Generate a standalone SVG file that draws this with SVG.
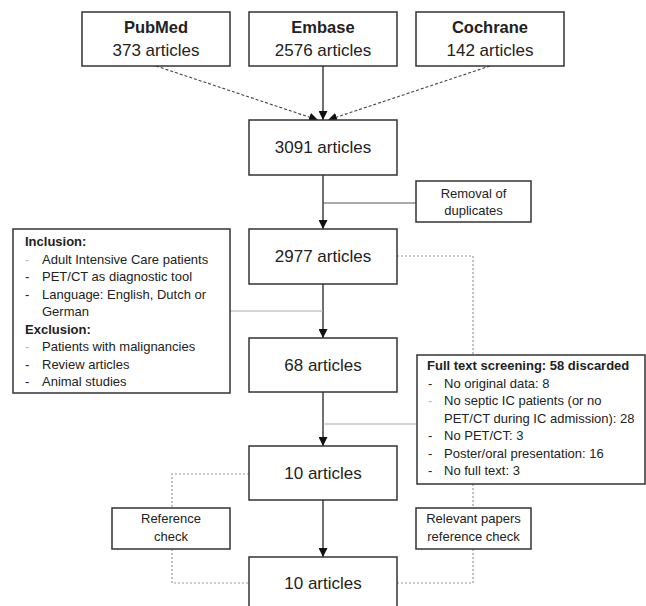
<svg xmlns="http://www.w3.org/2000/svg" width="646" height="606" viewBox="0 0 646 606">
<style>
.box{fill:#fff;stroke:#333;stroke-width:1.5}
.main{font-family:"Liberation Sans",Arial,sans-serif;font-size:17px;fill:#222;text-anchor:middle}
.mainb{font-family:"Liberation Sans",Arial,sans-serif;font-size:16.5px;font-weight:bold;fill:#222;text-anchor:middle}
.side{font-family:"Liberation Sans",Arial,sans-serif;font-size:13px;fill:#222;text-anchor:middle}
.list{font-family:"Liberation Sans",Arial,sans-serif;font-size:13px;fill:#222}
.listb{font-family:"Liberation Sans",Arial,sans-serif;font-size:13px;fill:#222;font-weight:bold}
.lt{fill:#bbb}
.solid{fill:none;stroke:#222;stroke-width:1.3}
.dash{fill:none;stroke:#444;stroke-width:1.1;stroke-dasharray:3 2}
.dot{fill:none;stroke:#999;stroke-width:1.2;stroke-dasharray:2 2}
.grey{fill:none;stroke:#aaa;stroke-width:1.2}
.mid{fill:none;stroke:#555;stroke-width:1.2}
</style>
<defs>
<marker id="ah" viewBox="0 0 10 10" refX="10" refY="5" markerWidth="9" markerHeight="9" markerUnits="userSpaceOnUse" orient="auto">
<path d="M0,0 L10,5 L0,10 z" fill="#111"/>
</marker>
</defs>
<g id="connectors">
<line class="dash" x1="156" y1="66" x2="318" y2="120" marker-end="url(#ah)"/>
<line class="solid" x1="323" y1="66" x2="323" y2="120" marker-end="url(#ah)"/>
<line class="dash" x1="490" y1="66" x2="328" y2="120" marker-end="url(#ah)"/>
<line class="solid" x1="323" y1="175" x2="323" y2="229" marker-end="url(#ah)"/>
<line class="mid" x1="323" y1="203" x2="416" y2="203"/>
<line class="solid" x1="323" y1="284" x2="323" y2="338" marker-end="url(#ah)"/>
<line class="grey" x1="230" y1="311" x2="323" y2="311"/>
<polyline class="dot" points="397,256 473,256 473,355"/>
<line class="solid" x1="323" y1="392" x2="323" y2="446" marker-end="url(#ah)"/>
<line class="grey" x1="323" y1="424" x2="417" y2="424"/>
<line class="solid" x1="323" y1="500" x2="323" y2="557" marker-end="url(#ah)"/>
<polyline class="dot" points="249,474 172,474 172,508"/>
<polyline class="dot" points="172,549 172,583 249,583"/>
<polyline class="dot" points="473,484 473,508"/>
<polyline class="dot" points="473,549 473,583 397,583"/>
</g>
<g id="pubmed">
<rect class="box" x="82" y="12" width="148" height="54"/>
<text class="mainb" x="156" y="33">PubMed</text>
<text class="main" x="156" y="56">373 articles</text>
</g>
<g id="embase">
<rect class="box" x="249" y="12" width="148" height="54"/>
<text class="mainb" x="323" y="33">Embase</text>
<text class="main" x="323" y="56">2576 articles</text>
</g>
<g id="cochrane">
<rect class="box" x="416" y="12" width="148" height="54"/>
<text class="mainb" x="490" y="33">Cochrane</text>
<text class="main" x="490" y="56">142 articles</text>
</g>
<g id="n3091">
<rect class="box" x="249" y="120" width="148" height="55"/>
<text class="main" x="323" y="153">3091 articles</text>
</g>
<g id="removal">
<rect class="box" x="416" y="181" width="115" height="41"/>
<text class="side" x="473.5" y="198">Removal of</text>
<text class="side" x="473.5" y="215">duplicates</text>
</g>
<g id="n2977">
<rect class="box" x="249" y="229" width="148" height="55"/>
<text class="main" x="323" y="262">2977 articles</text>
</g>
<g id="criteria">
<rect class="box" x="13" y="229" width="217" height="164"/>
<text class="listb" x="25" y="246">Inclusion:</text>
<text class="list lt" x="25" y="263.5">-</text><text class="list" x="42" y="263.5">Adult Intensive Care patients</text>
<text class="list" x="25" y="281">-</text><text class="list" x="42" y="281">PET/CT as diagnostic tool</text>
<text class="list" x="25" y="298.5">-</text><text class="list" x="42" y="298.5">Language: English, Dutch or</text>
<text class="list" x="42" y="316">German</text>
<text class="listb" x="25" y="333.5">Exclusion:</text>
<text class="list lt" x="25" y="351">-</text><text class="list" x="42" y="351">Patients with malignancies</text>
<text class="list" x="25" y="368.5">-</text><text class="list" x="42" y="368.5">Review articles</text>
<text class="list" x="25" y="386">-</text><text class="list" x="42" y="386">Animal studies</text>
</g>
<g id="n68">
<rect class="box" x="249" y="338" width="148" height="54"/>
<text class="main" x="323" y="371">68 articles</text>
</g>
<g id="fulltext">
<rect class="box" x="417" y="355" width="228" height="129"/>
<text class="listb" x="427" y="370">Full text screening: 58 discarded</text>
<text class="list" x="428" y="387.5">-</text><text class="list" x="444" y="387.5">No original data: 8</text>
<text class="list lt" x="428" y="405">-</text><text class="list" x="444" y="405">No septic IC patients (or no</text>
<text class="list" x="444" y="422.5">PET/CT during IC admission): 28</text>
<text class="list" x="428" y="440">-</text><text class="list" x="444" y="440">No PET/CT: 3</text>
<text class="list" x="428" y="457.5">-</text><text class="list" x="444" y="457.5">Poster/oral presentation: 16</text>
<text class="list" x="428" y="475">-</text><text class="list" x="444" y="475">No full text: 3</text>
</g>
<g id="n10a">
<rect class="box" x="249" y="446" width="148" height="54"/>
<text class="main" x="323" y="479">10 articles</text>
</g>
<g id="refcheck">
<rect class="box" x="112" y="508" width="118" height="41"/>
<text class="side" x="171" y="523">Reference</text>
<text class="side" x="171" y="541">check</text>
</g>
<g id="relevant">
<rect class="box" x="416" y="508" width="115" height="41"/>
<text class="side" x="473.5" y="523">Relevant papers</text>
<text class="side" x="473.5" y="541">reference check</text>
</g>
<g id="n10b">
<rect class="box" x="249" y="557" width="148" height="54"/>
<text class="main" x="323" y="589">10 articles</text>
</g>
</svg>
